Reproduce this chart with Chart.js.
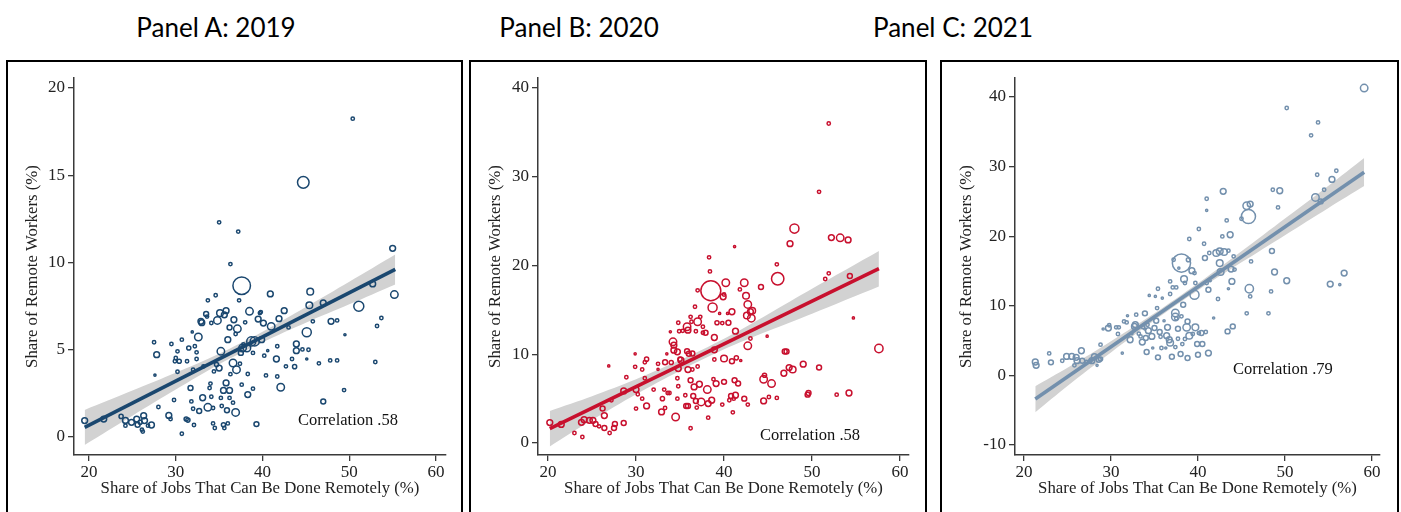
<!DOCTYPE html>
<html>
<head>
<meta charset="utf-8">
<script src="https://cdn.jsdelivr.net/npm/chart.js@4.4.1/dist/chart.umd.min.js"></script>
<style>
  html, body { margin:0; padding:0; background:#fff; }
  #wrap { position:relative; width:1401px; height:512px; overflow:hidden; background:#fff; }
  .ttl { position:absolute; top:11px; width:300px; text-align:center; font-family:Lato, "Open Sans", sans-serif; font-size:26px; line-height:32px; color:#000; }
  .box { position:absolute; top:60px; height:470px; border:2px solid #000; box-sizing:border-box; }
  canvas { position:absolute; }
</style>
</head>
<body>
<div id="wrap">
  <div class="ttl" style="left:66px">Panel A: 2019</div>
  <div class="ttl" style="left:429px">Panel B: 2020</div>
  <div class="ttl" style="left:803px">Panel C: 2021</div>
  <div class="box" style="left:6px;width:457px"></div>
  <div class="box" style="left:469px;width:458px"></div>
  <div class="box" style="left:940px;width:459px"></div>
  <canvas id="cA" width="453" height="450" style="left:8px;top:62px"></canvas>
  <canvas id="cB" width="453" height="450" style="left:471px;top:62px"></canvas>
  <canvas id="cC" width="455" height="450" style="left:942px;top:62px"></canvas>
</div>
<script>
// ---------- tick labels ----------
const xTicks = [20, 30, 40, 50, 60];
const yTicksA = [0, 5, 10, 15, 20];
const yTicksB = [0, 10, 20, 30, 40];
const yTicksC = [-10, 0, 10, 20, 30, 40];
const xTitle = "Share of Jobs That Can Be Done Remotely (%)";
const yTitle = "Share of Remote Workers (%)";
const corrA = "Correlation .58", corrB = "Correlation .58", corrC = "Correlation .79";

// ---------- Panel A: 2019 (x = share of remote-able jobs, y = share remote workers, w = weight) ----------
const xA = [19.5,21.7,23.7,24.2,24.2,24.9,25.5,25.6,25.9,26.3,26.4,26.1,26.2,26.8,27.2,27.5,27.6,27.8,28.0,29.2,29.4,29.5,29.8,30.0,30.2,29.9,30.2,30.4,30.7,30.7,31.2,31.4,31.3,31.5,31.7,31.8,31.9,32.0,32.0,32.1,32.2,32.4,32.4,32.6,32.7,32.9,33.0,33.1,33.2,33.5,33.6,33.7,33.7,34.0,33.9,34.1,34.1,34.3,34.3,34.4,34.5,34.6,34.7,34.8,35.0,35.0,35.1,35.2,35.2,35.3,35.5,35.5,35.6,35.6,35.8,35.8,35.9,36.0,36.0,36.2,36.2,36.2,36.3,36.3,36.6,36.6,36.7,36.9,36.9,37.0,37.1,37.2,37.4,37.3,37.5,37.6,37.6,37.7,37.8,38.0,38.2,38.3,38.3,38.5,38.7,38.9,38.9,39.1,39.3,39.5,39.7,39.8,39.9,40.1,40.2,40.4,40.6,40.9,41.0,41.6,41.7,41.7,41.9,42.1,42.5,42.7,43.0,43.4,43.7,43.9,43.9,44.6,44.7,45.1,45.1,45.3,45.4,45.5,45.8,46.5,47.0,47.0,47.9,47.8,48.6,48.6,49.4,49.5,50.4,51.1,52.7,53.0,53.2,53.7,55.0,55.2];
const yA = [0.94,1.03,1.18,0.95,0.65,0.84,1.03,0.70,0.84,1.22,0.94,0.42,0.31,0.65,0.69,5.43,3.55,4.72,1.72,1.24,1.03,5.33,2.12,4.53,4.91,4.34,3.74,4.34,5.58,0.19,1.03,0.97,4.34,5.10,2.81,2.04,6.02,1.62,3.86,0.69,5.20,4.47,4.85,5.73,1.49,6.63,6.55,2.25,4.05,7.05,6.90,1.70,7.83,3.06,2.81,2.31,6.53,0.78,1.66,3.76,0.52,8.12,4.15,6.68,12.3,3.95,7.10,2.24,4.91,1.78,2.67,0.70,0.52,7.00,7.24,3.10,1.53,0.78,5.58,2.67,2.24,6.28,9.91,3.60,1.97,4.24,6.72,5.90,1.41,3.86,6.20,11.77,4.20,7.83,4.82,8.67,3.00,5.10,5.30,6.57,5.10,2.43,3.61,7.20,5.48,2.77,4.82,5.48,0.74,6.76,7.10,7.16,5.58,6.53,4.66,3.53,4.95,8.20,6.34,4.47,5.20,3.47,6.78,2.85,7.24,4.05,6.28,4.47,4.03,5.33,4.95,5.02,14.59,6.00,4.47,5.00,7.55,8.33,6.63,4.22,7.68,2.04,6.63,4.39,4.39,6.68,2.69,5.86,18.24,7.49,8.77,4.30,6.36,6.82,10.81,8.16];
const wA = [4.7,4.7,2.25,4.7,1.4,4.7,4.7,3.3,2.25,4.7,4.7,1.4,1.4,1.4,4.7,1.4,0.5,4.7,1.4,4.7,1.4,1.4,1.4,1.4,1.4,1.4,1.4,2.25,1.4,1.4,2.25,2.25,1.4,2.25,3.3,1.4,0.5,1.4,1.4,1.4,1.4,1.4,1.4,8,3.3,4.7,4.7,4.7,1.4,3.3,1.4,8,1.4,1.4,1.4,1.4,1.4,1.4,1.4,1.4,1.4,1.4,2.25,8,1.4,4.7,6.25,1.4,8,1.4,4.7,2.25,1.4,4.7,4.7,4.7,3.3,1.4,4.7,4.7,1.4,3.3,1.4,1.4,1.4,8,4.7,1.4,8,8,8,1.4,1.4,1.4,3.3,47,1.4,8,1.4,1.4,8,4.7,1.4,8,12,1.4,1.4,12,3.3,4.7,1.4,1.4,4.7,4.7,1.4,1.4,0.5,4.7,8,4.7,1.4,1.4,4.7,8,4.7,1.4,1.4,1.4,2.25,4.7,4.7,1.4,20,12,0.5,1.4,6.25,6.25,1.4,1.4,4.7,3.3,4.7,1.4,1.4,1.4,1.4,0.5,1.4,14.7,4.7,1.4,1.4,1.4,4.7,8];
const fitXA = [19.5, 55.3];
const fitYA = [0.55, 9.6];
const bandXA = [19.5, 25, 30, 35, 40, 45, 50, 55.3];
const bandLoA = [-0.45, 1.22, 2.72, 4.17, 5.43, 6.55, 7.6, 8.74];
const bandHiA = [1.55, 2.66, 3.68, 4.77, 6.03, 7.45, 8.9, 10.46];

// ---------- Panel B: 2020 ----------
const xB = [20.2,21.5,23.0,23.8,23.9,24.1,24.7,25.1,25.4,25.8,26.2,26.4,26.4,26.9,27.0,27.2,27.5,27.6,28.6,28.6,28.9,29.9,29.9,30.0,30.0,30.2,30.7,30.7,31.0,31.2,31.2,31.0,32.0,32.5,32.5,32.9,33.0,33.2,33.3,33.3,33.5,33.6,33.8,33.9,34.0,34.2,34.3,34.3,34.5,34.7,34.7,34.7,34.8,34.8,34.8,34.9,35.0,35.1,35.3,35.6,35.7,35.8,35.8,35.9,35.9,35.9,36.0,36.2,36.2,36.2,36.3,36.4,36.4,36.5,36.6,36.7,36.8,36.8,36.9,37.0,37.0,37.0,37.2,37.3,37.4,37.6,37.6,37.9,38.1,38.2,38.2,38.3,38.4,38.5,38.6,38.7,38.8,38.9,38.9,38.9,39.1,39.2,39.5,39.8,39.8,39.9,40.0,40.0,40.0,40.2,40.4,40.5,40.6,40.8,40.9,40.9,41.0,41.1,41.2,41.2,41.3,41.3,41.4,41.6,41.8,41.9,42.3,42.3,42.5,42.6,42.7,42.7,42.7,43.0,43.1,43.2,43.0,44.2,44.5,44.5,44.6,44.9,45.1,45.4,46.0,46.0,46.1,46.8,46.9,47.1,47.4,47.5,47.8,48.0,49.0,49.5,49.6,50.8,50.8,51.5,51.9,51.9,52.2,52.8,53.2,54.1,54.2,54.3,54.7,57.6];
const yB = [2.30,2.10,1.13,2.33,0.68,2.63,2.56,2.56,2.14,1.88,3.88,3.09,1.69,8.69,1.13,4.82,1.69,2.14,2.26,5.87,7.41,8.58,10.05,3.88,6.02,5.49,8.28,5.00,7.30,4.18,9.45,9.10,6.02,8.92,8.30,3.50,5.00,6.02,9.10,3.95,10.05,5.64,5.64,12.53,9.07,11.40,11.03,10.46,2.93,10.28,5.00,7.30,6.40,13.55,8.39,12.60,9.45,9.33,12.64,5.38,4.18,10.35,13.10,12.72,4.18,8.28,10.05,1.66,14.22,7.07,13.66,8.28,10.09,5.30,6.32,15.35,12.60,4.74,3.99,13.66,17.20,8.62,6.62,14.22,4.63,13.10,12.42,12.42,6.02,4.44,2.86,20.92,19.34,17.16,4.82,15.28,7.19,11.89,10.50,9.41,6.70,13.55,14.60,13.51,4.33,16.48,9.52,16.74,6.89,18.06,14.60,13.55,4.82,5.30,14.79,9.22,3.46,5.00,22.13,7.07,12.60,5.38,9.60,6.70,17.31,9.30,5.00,18.06,16.59,14.37,15.62,10.95,4.33,14.79,14.07,14.90,11.78,17.57,4.74,7.19,7.64,12.04,5.19,6.70,20.13,5.08,18.51,7.86,10.31,10.31,8.50,22.46,8.28,24.16,8.88,5.45,5.64,28.30,8.50,18.48,36.00,19.12,23.15,5.45,23.12,22.89,5.64,18.82,14.10,10.65];
const wB = [4.7,4.7,1.4,4.7,1.4,4.7,4.7,4.7,3.3,1.4,3.3,4.7,3.3,0.5,1.4,1.4,3.3,3.3,3.3,4.7,1.4,1.4,0.5,1.4,4.7,1.4,1.4,1.4,1.4,4.7,2.25,1.4,1.4,1.4,0.5,4.7,2.25,1.4,3.3,1.4,0.5,1.4,1.4,0.5,2.25,8,4.7,4.7,8,4.7,1.4,1.4,1.4,1.4,4.7,1.4,2.25,4.7,1.4,1.4,3.3,3.3,8,4.7,3.3,4.7,3.3,1.4,1.4,3.3,1.4,1.4,3.3,3.3,4.7,1.4,1.4,3.3,1.4,8,1.4,1.4,4.7,1.4,8,1.4,1.4,3.3,8,4.7,1.4,1.4,1.4,61,4.7,12,1.4,4.7,4.7,1.4,4.7,2.25,0.5,1.4,1.4,4.7,6.25,1.4,3.3,8,0.5,3.3,1.4,3.3,4.7,3.3,1.4,1.4,0.5,3.3,4.7,4.7,2.25,3.3,1.4,0.5,3.3,8,6.25,6.25,8,8,1.4,4.7,8,6.25,1.4,3.3,4.7,8,2.25,0.5,1.4,8,1.4,1.4,23,4.7,3.3,3.3,4.7,4.7,6.25,12,4.7,3.3,3.3,1.4,3.3,1.4,1.4,1.4,4.7,1.4,8,4.7,4.7,3.3,0.5,10];
const fitXB = [20.2, 57.6];
const fitYB = [1.62, 19.64];
const bandXB = [20.2, 25, 30, 35, 40, 45, 50, 57.6];
const bandLoB = [-0.38, 2.58, 5.49, 8.15, 10.56, 12.62, 14.58, 17.64];
const bandHiB = [3.62, 5.28, 7.19, 9.35, 11.76, 14.52, 17.38, 21.64];

// ---------- Panel C: 2021 ----------
const xC = [21.3,21.4,22.9,23.1,24.4,24.9,25.5,25.8,26.0,26.1,26.6,26.7,27.2,27.6,27.8,28.1,28.4,28.6,28.8,28.8,29.1,29.7,29.8,30.6,30.8,30.9,31.3,31.5,31.8,31.9,32.2,32.4,32.7,32.8,32.9,33.2,33.4,33.6,33.7,33.9,33.9,34.0,34.1,34.2,34.3,34.4,34.7,34.8,35.0,35.1,35.2,35.3,35.4,35.4,35.6,35.7,35.8,35.9,36.1,36.3,36.4,36.5,36.7,36.8,36.8,36.8,37.0,37.1,37.2,37.4,37.4,37.4,37.5,37.5,37.7,37.7,37.8,38.0,38.1,38.1,38.2,38.3,38.4,38.5,38.5,38.7,38.8,38.8,38.9,39.0,39.0,39.3,39.4,39.6,39.6,39.7,39.7,39.9,40.0,40.1,40.1,40.4,40.5,40.7,40.8,40.9,41.0,41.0,41.0,41.2,41.2,41.3,41.4,41.8,42.1,42.3,42.5,42.5,42.6,42.8,42.9,43.0,43.3,43.4,43.5,43.5,43.7,43.8,43.9,44.0,44.1,44.2,45.0,45.6,45.6,45.8,45.9,46.0,46.0,46.1,48.1,48.4,48.5,48.6,48.8,49.2,49.4,50.2,50.2,53.0,53.5,53.7,53.8,54.1,54.5,55.2,55.4,55.9,56.3,56.8,59.1];
const yC = [1.92,1.44,3.16,1.87,2.11,2.73,2.73,1.44,2.59,2.11,3.54,2.11,1.92,2.01,2.11,2.68,1.44,2.25,4.41,2.35,6.66,6.80,7.20,6.90,5.94,6.90,3.21,7.76,7.61,8.57,5.12,6.00,7.04,7.28,8.72,6.00,5.60,4.79,6.90,6.66,8.91,5.36,3.35,7.28,6.42,11.49,5.60,3.93,6.80,11.35,7.85,9.67,12.45,2.59,6.23,5.55,3.93,11.11,7.85,3.93,5.70,6.90,5.12,13.50,11.69,4.69,2.68,12.64,16.62,8.96,8.38,4.07,8.20,12.64,6.71,5.27,15.42,3.06,8.48,16.14,4.50,10.15,13.84,13.27,5.22,6.90,7.76,2.49,16.62,19.59,5.70,15.04,5.94,14.70,11.59,13.27,6.90,4.50,2.97,6.08,21.03,6.08,4.50,18.92,16.86,6.23,25.38,13.27,23.71,12.31,3.21,17.58,13.60,8.24,17.58,10.97,16.14,17.82,14.85,19.97,26.44,17.73,22.27,6.32,17.92,12.45,20.21,15.28,13.50,7.04,17.10,15.20,22.51,8.91,24.38,22.84,12.45,24.62,11.35,16.38,8.91,12.07,17.87,26.68,14.85,24.14,26.53,13.60,38.42,34.49,25.57,28.83,36.35,25.00,26.68,13.12,28.16,29.41,13.03,14.70,41.28];
const wC = [4.7,4.7,1.4,3.3,1.4,4.7,4.7,1.4,4.7,4.7,4.7,3.3,1.4,1.4,4.7,4.7,0.5,3.3,1.4,2.25,0.5,4.7,1.4,1.4,1.4,1.4,0.5,1.4,1.4,0.5,4.7,0.5,4.7,4.7,1.4,1.4,1.4,4.7,1.4,0.5,3.3,3.3,3.3,1.4,4.7,0.5,4.7,0.5,3.3,0.5,3.3,1.4,1.4,3.3,3.3,1.4,1.4,0.5,0.5,0.5,4.7,4.7,4.7,1.4,1.4,6.25,3.3,1.4,1.4,8,8,1.4,1.4,1.4,3.3,1.4,0.5,3.3,1.4,51,1.4,3.3,6.25,1.4,1.4,8,3.3,3.3,2.25,1.4,6.25,4.7,1.4,1.4,12,1.4,6.25,3.3,3.3,1.4,1.4,3.3,3.3,1.4,3.3,1.4,1.4,1.4,0.5,3.3,4.7,1.4,0.5,0.5,6.25,1.4,6.25,6.25,6.25,1.4,4.7,6.25,1.4,3.3,1.4,0.5,4.7,4.7,4.7,3.3,1.4,1.4,1.4,1.4,8,30,10,4.7,1.4,1.4,1.4,1.4,3.3,1.4,4.7,1.4,4.7,4.7,1.4,1.4,8,1.4,1.4,3.3,1.4,4.7,4.7,1.4,0.5,4.7,8];
const fitXC = [21.3, 59.1];
const fitYC = [-3.4, 29.2];
const bandXC = [21.3, 25, 30, 35, 40, 45, 50, 55, 59.1];
const bandLoC = [-5.3, -1.51, 3.3, 7.91, 12.23, 16.24, 20.15, 24.06, 27.2];
const bandHiC = [-1.55, 1.09, 4.9, 8.91, 13.23, 17.84, 22.55, 27.26, 31.25];

// ---------- drawing ----------
const serif = "'Liberation Serif', 'DejaVu Serif', serif";
const axisColor = '#3a3a3a';
const bandColor = '#d2d2d2';

const corrPlugin = {
  id: 'corr',
  afterDatasetsDraw(chart, args, opts) {
    const {ctx, scales} = chart;
    ctx.save();
    ctx.font = opts.size + 'px ' + serif;
    ctx.fillStyle = '#111';
    ctx.textAlign = 'left';
    ctx.textBaseline = 'middle';
    ctx.fillText(opts.text, scales.x.getPixelForValue(opts.x), scales.y.getPixelForValue(opts.y));
    ctx.restore();
  }
};

function zip(xs, ys) { return xs.map((v, i) => ({x: v, y: ys[i]})); }

function makePanel(p) {
  // bubble radius grows with the square root of the weight
  const bubbles = p.x.map((v, i) => ({x: v, y: p.y[i], r: 1.25 * Math.sqrt(p.w[i]) + 0.2}));
  new Chart(document.getElementById(p.id), {
    data: {
      datasets: [
        { type: 'line', data: zip(p.bandX, p.bandHi), borderWidth: 0, pointRadius: 0, fill: false, tension: 0.3, order: 5 },
        { type: 'line', data: zip(p.bandX, p.bandLo), borderWidth: 0, pointRadius: 0, fill: '-1', backgroundColor: bandColor, tension: 0.3, order: 4 },
        { type: 'bubble', data: bubbles, borderColor: p.color, backgroundColor: 'rgba(0,0,0,0)', borderWidth: 1.5, order: 2 },
        { type: 'line', data: zip(p.fitX, p.fitY), borderColor: p.color, borderWidth: 3.6, pointRadius: 0, fill: false, order: 1 }
      ]
    },
    options: {
      responsive: false,
      animation: false,
      devicePixelRatio: 1,
      layout: { padding: { left: 0, right: p.padR, top: 16, bottom: 0 } },
      plugins: {
        legend: { display: false },
        tooltip: { enabled: false },
        corr: { text: p.corr, x: p.corrX, y: p.corrY, size: 16.5 }
      },
      scales: {
        x: {
          type: 'linear', position: 'bottom', min: p.xMin, max: p.xMax,
          afterBuildTicks: s => { s.ticks = xTicks.map(v => ({value: v})); },
          afterFit: s => { s.height = 57; },
          grid: { display: true, drawOnChartArea: false, drawTicks: true, tickLength: 6, tickColor: axisColor, lineWidth: 1.3 },
          border: { display: true, color: axisColor, width: 1.5 },
          ticks: { font: { family: serif, size: 17 }, color: '#222', padding: 1, maxRotation: 0, autoSkip: false },
          title: { display: true, text: xTitle, font: { family: serif, size: 16.8 }, color: '#222', padding: { top: 0, bottom: 13 } }
        },
        y: {
          type: 'linear', position: 'left', min: p.yMin, max: p.yMax,
          afterBuildTicks: s => { s.ticks = p.yTicks.map(v => ({value: v})); },
          afterFit: s => { s.width = p.left; },
          grid: { display: true, drawOnChartArea: false, drawTicks: true, tickLength: 6, tickColor: axisColor, lineWidth: 1.3 },
          border: { display: true, color: axisColor, width: 1.5 },
          ticks: { font: { family: serif, size: 17 }, color: '#222', padding: 3, autoSkip: false },
          title: { display: true, text: yTitle, font: { family: serif, size: 16.8 }, color: '#222', padding: { top: 15, bottom: 0 } }
        }
      }
    },
    plugins: [corrPlugin]
  });
}

makePanel({ id: 'cA', x: xA, y: yA, w: wA, fitX: fitXA, fitY: fitYA, bandX: bandXA, bandLo: bandLoA, bandHi: bandHiA,
  color: '#1a476f', xMin: 18.27, xMax: 61.15, yMin: -1.03, yMax: 20.57, yTicks: yTicksA, left: 66, padR: 15,
  corr: corrA, corrX: 44.1, corrY: 0.92 });
makePanel({ id: 'cB', x: xB, y: yB, w: wB, fitX: fitXB, fitY: fitYB, bandX: bandXB, bandLo: bandLoB, bandHi: bandHiB,
  color: '#c8102e', xMin: 18.86, xMax: 61.02, yMin: -1.35, yMax: 41.13, yTicks: yTicksB, left: 67, padR: 15,
  corr: corrB, corrX: 44.1, corrY: 0.79 });
makePanel({ id: 'cC', x: xC, y: yC, w: wC, fitX: fitXC, fitY: fitYC, bandX: bandXC, bandLo: bandLoC, bandHi: bandHiC,
  color: '#7390ad', xMin: 18.97, xMax: 60.92, yMin: -11.44, yMax: 42.73, yTicks: yTicksC, left: 73, padR: 17,
  corr: corrC, corrX: 44.02, corrY: 0.78 });
</script>
</body>
</html>
